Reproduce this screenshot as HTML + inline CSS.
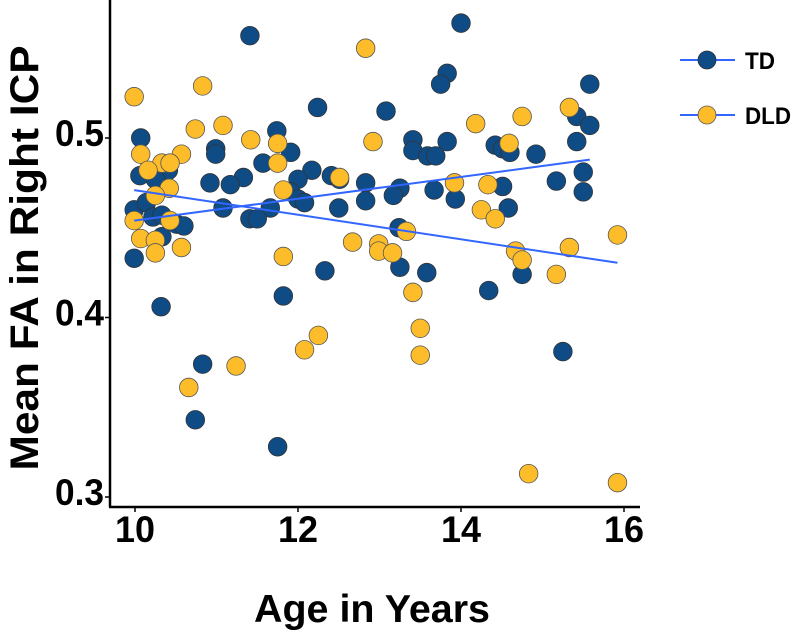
<!DOCTYPE html>
<html><head><meta charset="utf-8"><style>
body{margin:0;background:#fff;}
svg text{font-family:"Liberation Sans",Arial,sans-serif;font-weight:bold;fill:#000;}
</style></head><body>
<svg id="chart" width="800" height="633" viewBox="0 0 800 633" xmlns="http://www.w3.org/2000/svg">
<g id="plot"></g>
<g id="axes"></g>
<text x="0" y="0" transform="translate(38,258) rotate(-90)" text-anchor="middle" font-size="40" textLength="425" lengthAdjust="spacingAndGlyphs">Mean FA in Right ICP</text>
<text x="372" y="622" text-anchor="middle" font-size="39" textLength="236" lengthAdjust="spacingAndGlyphs">Age in Years</text>
<g>
<g>
<line x1="680" y1="60" x2="735" y2="60" stroke="#3366ff" stroke-width="2"/>
<circle cx="707" cy="60" r="9" fill="#0f4c85" stroke="#333" stroke-width="0.8"/>
<text x="745" y="69" font-size="24" textLength="30" lengthAdjust="spacingAndGlyphs">TD</text></g>
<g>
<line x1="680" y1="115" x2="735" y2="115" stroke="#3366ff" stroke-width="2"/>
<circle cx="707" cy="115" r="9" fill="#fdbd2a" stroke="#555" stroke-width="0.8"/>
<text x="745" y="124" font-size="24" textLength="46" lengthAdjust="spacingAndGlyphs">DLD</text></g>
</g>
</svg>
<script>
const tdAge=[11.41,12.24,10.07,11.74,10.99,10.99,11.91,10.06,10.41,10.25,11.57,11.33,10.92,11.17,12.17,12.0,12.41,12.51,12.83,12.83,11.91,12.0,12.08,12.50,11.66,11.08,11.41,11.50,9.99,10.14,10.22,10.33,10.51,10.60,10.33,9.99,12.33,11.82,10.32,10.83,10.74,11.75,14.0,13.83,13.75,15.58,13.08,15.42,15.58,13.41,13.41,13.83,13.59,13.69,14.42,14.51,14.60,14.92,15.42,15.50,15.50,15.17,13.25,13.17,13.67,13.93,14.51,14.58,13.24,13.25,13.58,14.75,14.34,15.25];
const tdFA=[0.557,0.517,0.500,0.504,0.494,0.491,0.492,0.479,0.482,0.477,0.486,0.478,0.475,0.474,0.482,0.477,0.479,0.477,0.475,0.465,0.470,0.466,0.464,0.461,0.461,0.461,0.455,0.455,0.460,0.464,0.456,0.457,0.452,0.451,0.445,0.433,0.426,0.412,0.406,0.374,0.343,0.328,0.564,0.536,0.530,0.530,0.515,0.512,0.507,0.499,0.493,0.498,0.490,0.490,0.496,0.494,0.492,0.491,0.498,0.481,0.470,0.476,0.472,0.468,0.471,0.466,0.473,0.461,0.450,0.428,0.425,0.424,0.415,0.381];
const dldAge=[9.99,10.83,12.83,10.74,11.08,11.42,11.75,12.92,10.07,10.57,10.33,10.43,10.16,11.75,10.42,10.25,11.82,9.99,10.43,10.07,10.25,10.25,10.57,12.51,12.67,11.82,12.25,12.08,11.24,10.66,14.75,15.33,14.18,14.59,13.92,14.33,14.25,14.42,13.33,12.99,12.99,13.16,15.92,15.33,14.67,14.75,15.17,13.41,13.50,13.50,14.83,15.92];
const dldFA=[0.523,0.529,0.550,0.505,0.507,0.499,0.497,0.498,0.491,0.491,0.486,0.486,0.482,0.486,0.472,0.468,0.471,0.454,0.454,0.444,0.443,0.436,0.439,0.478,0.442,0.434,0.390,0.382,0.373,0.361,0.512,0.517,0.508,0.497,0.475,0.474,0.460,0.455,0.448,0.441,0.437,0.436,0.446,0.439,0.437,0.432,0.424,0.414,0.394,0.379,0.313,0.308];
const xTicks=[10,12,14,16];
const yTicks=[0.3,0.4,0.5];
const yTickLabels=["0.3","0.4","0.5"];

const NS="http://www.w3.org/2000/svg";
function xs(v){return 135+(v-10)*81.5;}
function ys(v){return 138+(0.5-v)*1795;}
function mk(tag,attrs,parent){const e=document.createElementNS(NS,tag);for(const k in attrs)e.setAttribute(k,attrs[k]);parent.appendChild(e);return e;}
const plot=document.getElementById('plot');
const axes=document.getElementById('axes');

function fit(a,b){const n=a.length;let mx=0,my=0;for(let i=0;i<n;i++){mx+=a[i];my+=b[i];}mx/=n;my/=n;let sxy=0,sxx=0;for(let i=0;i<n;i++){sxy+=(a[i]-mx)*(b[i]-my);sxx+=(a[i]-mx)**2;}const s=sxy/sxx;return [s,my-s*mx];}

function points(ages,fas,fill,stroke,name){
  for(let i=0;i<ages.length;i++){
    const c=mk('circle',{cx:xs(ages[i]),cy:ys(fas[i]),r:9.3,fill:fill,stroke:stroke,'stroke-width':0.8},plot);
    
    
  }
}
points(tdAge,tdFA,'#0f4c85','#333','td-point');
points(dldAge,dldFA,'#fdbd2a','#555','dld-point');

function trend(ages,fas,name){
  const [s,b]=fit(ages,fas);
  const x0=Math.min(...ages),x1=Math.max(...ages);
  const l=mk('line',{x1:xs(x0),y1:ys(s*x0+b),x2:xs(x1),y2:ys(s*x1+b),stroke:'#3366ff','stroke-width':2},plot);
  
  
}
trend(tdAge,tdFA,'td-trend-line');
trend(dldAge,dldFA,'dld-trend-line');

const ya=mk('line',{x1:110,y1:0,x2:110,y2:507,stroke:'#000','stroke-width':2.5},axes);


const xa=mk('line',{x1:109,y1:507,x2:640,y2:507,stroke:'#000','stroke-width':2.5},axes);


xTicks.forEach(t=>{
  const tk=mk('line',{x1:xs(t),y1:507,x2:xs(t),y2:512,stroke:'#000','stroke-width':1.5},axes);
  
  
  const tx=mk('text',{x:xs(t),y:542,'text-anchor':'middle','font-size':37,textLength:40,lengthAdjust:'spacingAndGlyphs'},axes);
  tx.textContent=String(t);
  
  
});
yTicks.forEach((t,i)=>{
  const tk=mk('line',{x1:105,y1:ys(t),x2:110,y2:ys(t),stroke:'#000','stroke-width':1.5},axes);
  
  
  const tx=mk('text',{x:104,y:ys(t)+8,'text-anchor':'end','font-size':37,textLength:49,lengthAdjust:'spacingAndGlyphs'},axes);
  tx.textContent=yTickLabels[i];
  
  
});
</script>
</body></html>
